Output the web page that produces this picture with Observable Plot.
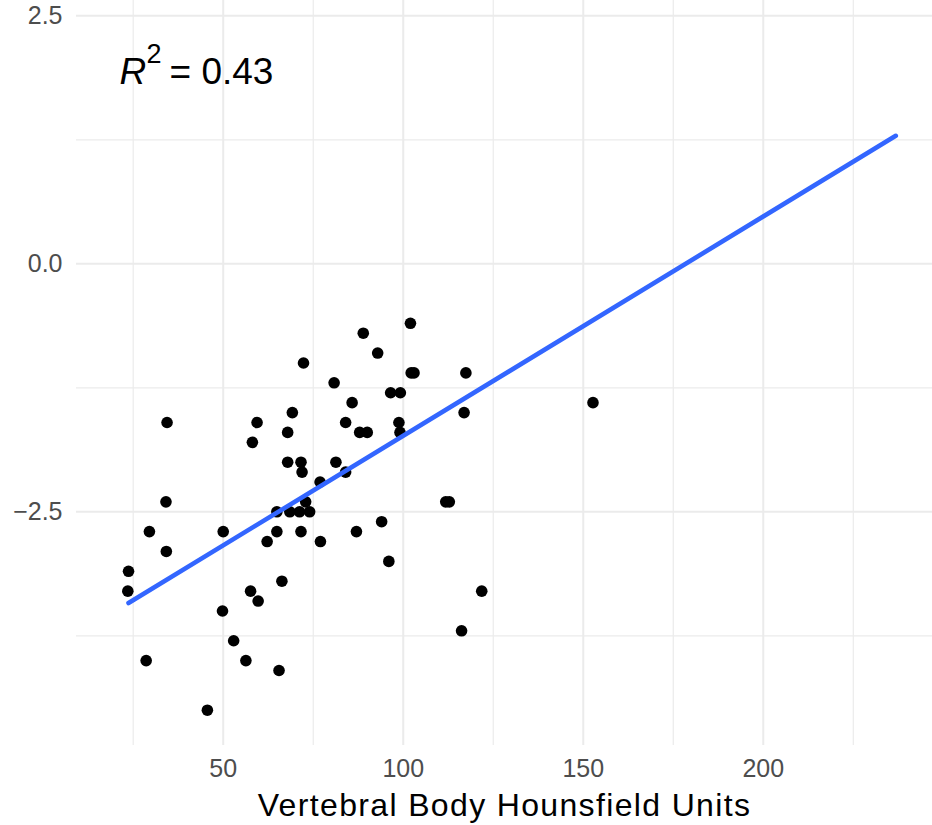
<!DOCTYPE html>
<html>
<head>
<meta charset="utf-8">
<script src="https://cdn.jsdelivr.net/npm/d3@7"></script>
<script src="https://cdn.jsdelivr.net/npm/@observablehq/plot@0.6"></script>
<style>
  html, body { margin: 0; padding: 0; background: #fff; }
  #chart svg { display: block; font-family: "Liberation Sans", Arial, Helvetica, sans-serif; }
</style>
</head>
<body>
<div id="chart"></div>
<script>
// Vertebral Body Hounsfield Units (x) vs outcome (y)
const hu = [34.4, 34.1, 29.5, 34.2, 23.7, 23.5, 28.6, 45.6, 50.0, 49.8,
            52.9, 56.3, 65.5, 57.6, 59.7, 66.3, 59.4, 58.1, 69.2, 67.9,
            67.9, 62.2, 64.9, 64.9, 72.3, 88.9, 92.9, 102.0, 102.2, 103.0,
            80.8, 85.8, 96.5, 99.2, 84.0, 87.9, 90.0, 98.8, 99.1, 71.6,
            71.9, 81.3, 84.0, 76.9, 72.9, 68.5, 71.2, 74.0, 71.6, 77.0,
            87.0, 94.0, 96.0, 117.4, 152.7, 116.9, 111.8, 112.8, 121.8, 116.2];
const yval = [-1.6, -2.4, -2.7, -2.9, -3.1, -3.3, -4.0, -4.5, -2.7, -3.5,
              -3.8, -4.0, -4.1, -3.3, -3.4, -3.2, -1.6, -1.8, -1.5, -1.7,
              -2.0, -2.8, -2.7, -2.5, -1.0, -0.7, -0.9, -0.6, -1.1, -1.1,
              -1.2, -1.4, -1.3, -1.3, -1.6, -1.7, -1.7, -1.6, -1.7, -2.0,
              -2.1, -2.0, -2.1, -2.2, -2.4, -2.5, -2.5, -2.5, -2.7, -2.8,
              -2.7, -2.6, -3.0, -1.1, -1.4, -1.5, -2.4, -2.4, -3.3, -3.7];
// fitted regression line endpoints
const fitX = [23.7, 236.8];
const fitY = [-3.42, 1.29];
const rSquared = "0.43";
const xTitle = "Vertebral Body Hounsfield Units";
const xMajor = [50, 100, 150, 200];
const xMinor = [25, 75, 125, 175, 225];
const yMajor = [-2.5, 0, 2.5];
const yMinor = [-3.75, -1.25, 1.25];
const labelPos = [{x: 21.2, y: 1.93}];

const points = hu.map((x, i) => ({x, y: yval[i]}));
const fit = fitX.map((x, i) => ({x, y: fitY[i]}));

const grid = "#EBEBEB";
const font = '"Liberation Sans", Arial, Helvetica, sans-serif';
const plot = Plot.plot({
  width: 932,
  height: 825,
  marginLeft: 76,
  marginRight: 0,
  marginTop: 0,
  marginBottom: 80,
  style: {fontFamily: font, background: "#fff"},
  x: {domain: [9.25, 247.0]},
  y: {domain: [-4.856, 2.654]},
  marks: [
    Plot.ruleX(xMinor, {stroke: grid, strokeWidth: 1.2}),
    Plot.ruleY(yMinor, {stroke: grid, strokeWidth: 1.2}),
    Plot.ruleX(xMajor, {stroke: grid, strokeWidth: 2}),
    Plot.ruleY(yMajor, {stroke: grid, strokeWidth: 2}),
    Plot.axisX({ticks: xMajor, tickSize: 0, tickPadding: 14, fontSize: 25, color: "#4D4D4D", label: null, tickFormat: d => String(d)}),
    Plot.axisY({ticks: yMajor, tickSize: 0, tickPadding: 14, fontSize: 25, color: "#4D4D4D", label: null, tickFormat: d3.format(".1f")}),
    Plot.dot(points, {x: "x", y: "y", r: 5.8, fill: "black", stroke: null}),
    Plot.line(fit, {x: "x", y: "y", stroke: "#3366FF", strokeWidth: 4.6}),
    // R^2 annotation: italic R, superscript 2, then "= value"
    Plot.text(labelPos, {x: "x", y: "y", text: () => "R", textAnchor: "start", lineAnchor: "middle", fontSize: 37, fontStyle: "italic", fill: "black"}),
    Plot.text(labelPos, {x: "x", y: "y", text: () => "2", textAnchor: "start", lineAnchor: "middle", fontSize: 27, dx: 27, dy: -18, fill: "black"}),
    Plot.text(labelPos, {x: "x", y: "y", text: () => "= " + rSquared, textAnchor: "start", lineAnchor: "middle", fontSize: 37, dx: 50, fill: "black"}),
    Plot.text([xTitle], {frameAnchor: "bottom", lineAnchor: "middle", dy: 60, fontSize: 32, fill: "black", className: "xtitle"})
  ]
});
document.getElementById("chart").appendChild(plot);

// slightly wider title spacing, like the reference rendering
plot.querySelectorAll(".xtitle text").forEach(el => el.setAttribute("letter-spacing", "1.35"));
</script>
</body>
</html>
